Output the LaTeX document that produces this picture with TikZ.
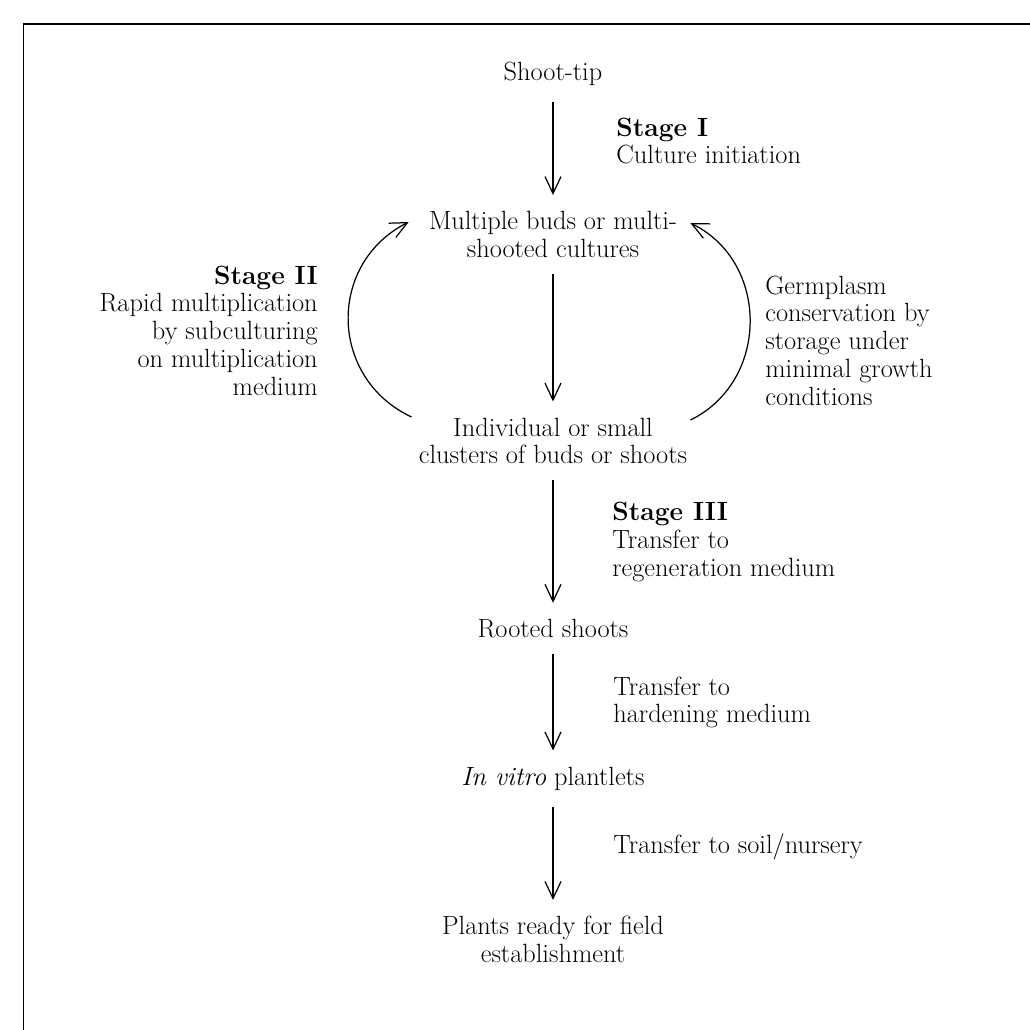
\documentclass[tikz,border=0pt]{standalone}
\usetikzlibrary{arrows.meta}
\newcommand{\flowfont}{\fontsize{15pt}{15.8pt}\selectfont}
\tikzset{
  pstep/.style={align=center, inner sep=1mm, font=\flowfont},
  pnote/.style={align=left, anchor=west, inner sep=0pt, font=\flowfont},
  pnoteleft/.style={align=right, anchor=east, inner sep=0pt, font=\flowfont},
  parrow/.style={-{Straight Barb[length=3.4mm, width=3.2mm]}, line width=0.7pt,
                 shorten <=2.2mm, shorten >=2.2mm},
  ploop/.style={-{Straight Barb[length=3.4mm, width=3.2mm]}, line width=0.7pt},
  pframe/.style={line width=0.8pt},
}
\begin{document}
\begin{tikzpicture}
    \useasboundingbox (0,0) rectangle (20.6,-20.6);
    % frame
    \draw[pframe] (0.47,-20.6) -- (0.47,-0.48) -- (20.6,-0.48);
    % main column
    \node[pstep] (tip) at (11.06,-1.47) {Shoot-tip};
    \node[pstep] (buds) at (11.06,-4.69) {Multiple buds or multi-\\shooted cultures};
    \node[pstep] (clusters) at (11.06,-8.82) {Individual or small\\clusters of buds or shoots};
    \node[pstep] (rooted) at (11.06,-12.57) {Rooted shoots};
    \node[pstep] (invitro) at (11.06,-15.57) {\textit{In vitro} plantlets};
    \node[pstep] (plants) at (11.06,-18.79) {Plants ready for field\\establishment};
    % stage notes
    \node[pnote] (stage1) at (12.32,-2.82) {\textbf{Stage I}\\Culture initiation};
    \node[pnoteleft] (stage2) at (6.36,-6.61) {\textbf{Stage II}\\Rapid multiplication\\by subculturing\\on multiplication\\medium};
    \node[pnote] (germ) at (15.3,-6.81) {Germplasm\\conservation by\\storage under\\minimal growth\\conditions};
    \node[pnote] (stage3) at (12.24,-10.84) {\textbf{Stage III}\\Transfer to\\regeneration medium};
    \node[pnote] (harden) at (12.26,-14.05) {Transfer to\\hardening medium};
    \node[pnote] (soil) at (12.26,-16.93) {Transfer to soil/nursery};
    % arrows
    \draw[parrow] (tip) -- (buds);
    \draw[parrow] (buds) -- (clusters);
    \draw[parrow] (clusters) -- (rooted);
    \draw[parrow] (rooted) -- (invitro);
    \draw[parrow] (invitro) -- (plants);
    % loops
    \draw[ploop] ([xshift=-0.04cm,yshift=-0.09cm]clusters.north west)
        to[bend left=64, looseness=1.2] ([xshift=-0.3cm,yshift=0.25cm]buds.west);
    \draw[ploop] ([xshift=-0.04cm,yshift=-0.15cm]clusters.north east)
        to[bend right=64, looseness=1.15] ([xshift=0.16cm,yshift=0.23cm]buds.east);
\end{tikzpicture}
\end{document}
